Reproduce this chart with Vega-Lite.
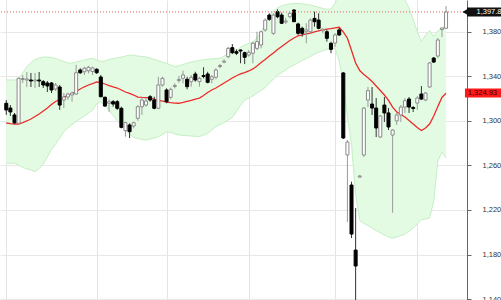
{
  "$schema": "https://vega.github.io/schema/vega-lite/v6.json",
  "width": 467,
  "height": 300,
  "autosize": {"type": "none"},
  "padding": {"left": 0, "top": 0, "right": 34, "bottom": 0},
  "background": "white",
  "config": {"view": {"stroke": null}, "font": "Liberation Sans"},
  "datasets": {
    "d": [
      {"i":0,"o":1315.8,"h":1318.7,"l":1305.3,"c":1309.8,"ma":1298.1,"up":1336.7,"lo":1261.9},
      {"i":1,"o":1311.5,"h":1314.2,"l":1304.4,"c":1308.0,"ma":1297.6,"up":1336.7,"lo":1261.9},
      {"i":2,"o":1305.3,"h":1307.1,"l":1297.2,"c":1298.3,"ma":1297.2,"up":1336.7,"lo":1261.9},
      {"i":3,"o":1297.8,"h":1338.9,"l":1297.2,"c":1338.2,"ma":1297.2,"up":1337.6,"lo":1260.1},
      {"i":4,"o":1337.1,"h":1341.2,"l":1334.0,"c":1338.0,"ma":1298.5,"up":1343.0,"lo":1258.3},
      {"i":5,"o":1336.7,"h":1343.9,"l":1330.4,"c":1337.6,"ma":1299.9,"up":1348.4,"lo":1256.8},
      {"i":6,"o":1336.7,"h":1343.0,"l":1330.4,"c":1335.8,"ma":1301.7,"up":1352.4,"lo":1255.9},
      {"i":7,"o":1335.8,"h":1343.0,"l":1329.5,"c":1336.7,"ma":1303.9,"up":1355.1,"lo":1254.5},
      {"i":8,"o":1336.7,"h":1343.9,"l":1330.4,"c":1335.8,"ma":1306.2,"up":1356.4,"lo":1257.2},
      {"i":9,"o":1335.2,"h":1336.7,"l":1329.5,"c":1332.2,"ma":1308.9,"up":1357.3,"lo":1261.3},
      {"i":10,"o":1334.0,"h":1335.8,"l":1325.9,"c":1331.3,"ma":1311.5,"up":1357.3,"lo":1267.6},
      {"i":11,"o":1334.0,"h":1334.9,"l":1325.0,"c":1327.7,"ma":1314.7,"up":1356.9,"lo":1274.3},
      {"i":12,"o":1328.6,"h":1334.0,"l":1326.8,"c":1332.2,"ma":1317.4,"up":1356.0,"lo":1279.2},
      {"i":13,"o":1330.4,"h":1332.2,"l":1309.8,"c":1314.2,"ma":1319.2,"up":1354.6,"lo":1284.6},
      {"i":14,"o":1318.7,"h":1325.0,"l":1311.5,"c":1321.4,"ma":1321.4,"up":1353.3,"lo":1290.4},
      {"i":15,"o":1321.4,"h":1325.3,"l":1318.7,"c":1324.1,"ma":1322.8,"up":1351.9,"lo":1293.6},
      {"i":16,"o":1323.2,"h":1326.2,"l":1317.2,"c":1325.0,"ma":1324.6,"up":1351.9,"lo":1296.7},
      {"i":17,"o":1324.1,"h":1350.2,"l":1323.2,"c":1343.2,"ma":1326.4,"up":1352.8,"lo":1299.4},
      {"i":18,"o":1345.7,"h":1347.2,"l":1342.1,"c":1343.2,"ma":1328.6,"up":1353.7,"lo":1301.9},
      {"i":19,"o":1344.1,"h":1348.6,"l":1341.2,"c":1347.2,"ma":1330.6,"up":1354.6,"lo":1304.4},
      {"i":20,"o":1345.0,"h":1349.3,"l":1342.7,"c":1348.1,"ma":1332.2,"up":1355.5,"lo":1307.1},
      {"i":21,"o":1344.3,"h":1348.6,"l":1341.2,"c":1347.5,"ma":1333.5,"up":1356.2,"lo":1309.5},
      {"i":22,"o":1346.3,"h":1347.2,"l":1342.1,"c":1343.2,"ma":1334.9,"up":1354.6,"lo":1315.6},
      {"i":23,"o":1339.4,"h":1341.2,"l":1321.2,"c":1321.7,"ma":1334.4,"up":1353.3,"lo":1316.9},
      {"i":24,"o":1321.2,"h":1321.7,"l":1312.7,"c":1313.3,"ma":1333.1,"up":1353.7,"lo":1313.8},
      {"i":25,"o":1315.8,"h":1319.4,"l":1308.2,"c":1317.2,"ma":1331.7,"up":1355.1,"lo":1309.3},
      {"i":26,"o":1317.2,"h":1318.7,"l":1312.7,"c":1315.1,"ma":1330.6,"up":1356.0,"lo":1304.8},
      {"i":27,"o":1317.2,"h":1318.7,"l":1309.8,"c":1311.3,"ma":1329.5,"up":1356.4,"lo":1300.3},
      {"i":28,"o":1311.3,"h":1312.7,"l":1293.3,"c":1294.2,"ma":1327.7,"up":1357.3,"lo":1296.3},
      {"i":29,"o":1291.2,"h":1299.3,"l":1285.8,"c":1298.4,"ma":1325.9,"up":1358.2,"lo":1291.8},
      {"i":30,"o":1296.3,"h":1297.8,"l":1284.6,"c":1290.3,"ma":1324.6,"up":1359.1,"lo":1288.2},
      {"i":31,"o":1295.4,"h":1299.3,"l":1293.3,"c":1298.4,"ma":1323.2,"up":1358.9,"lo":1285.2},
      {"i":32,"o":1302.3,"h":1314.2,"l":1300.1,"c":1312.7,"ma":1321.4,"up":1358.2,"lo":1284.1},
      {"i":33,"o":1312.7,"h":1321.7,"l":1305.3,"c":1318.7,"ma":1321.0,"up":1357.8,"lo":1283.3},
      {"i":34,"o":1314.2,"h":1320.3,"l":1312.7,"c":1317.8,"ma":1320.9,"up":1357.3,"lo":1282.8},
      {"i":35,"o":1321.7,"h":1323.2,"l":1317.2,"c":1318.7,"ma":1320.5,"up":1356.4,"lo":1283.7},
      {"i":36,"o":1318.7,"h":1321.7,"l":1310.4,"c":1311.3,"ma":1319.6,"up":1355.1,"lo":1284.6},
      {"i":37,"o":1311.3,"h":1339.6,"l":1310.4,"c":1332.2,"ma":1318.7,"up":1354.0,"lo":1285.8},
      {"i":38,"o":1332.2,"h":1339.6,"l":1330.7,"c":1338.2,"ma":1317.8,"up":1352.8,"lo":1287.8},
      {"i":39,"o":1327.7,"h":1329.2,"l":1315.8,"c":1317.2,"ma":1316.9,"up":1351.7,"lo":1290.0},
      {"i":40,"o":1321.2,"h":1329.8,"l":1319.4,"c":1328.3,"ma":1316.3,"up":1350.1,"lo":1289.6},
      {"i":41,"o":1330.9,"h":1333.7,"l":1329.2,"c":1331.8,"ma":1316.0,"up":1348.8,"lo":1288.2},
      {"i":42,"o":1336.2,"h":1340.3,"l":1334.3,"c":1337.1,"ma":1315.8,"up":1349.3,"lo":1287.3},
      {"i":43,"o":1338.2,"h":1345.0,"l":1333.7,"c":1341.2,"ma":1316.5,"up":1350.6,"lo":1287.0},
      {"i":44,"o":1337.3,"h":1339.6,"l":1328.3,"c":1330.7,"ma":1317.4,"up":1351.8,"lo":1286.7},
      {"i":45,"o":1335.2,"h":1341.2,"l":1330.7,"c":1339.1,"ma":1318.3,"up":1352.8,"lo":1286.4},
      {"i":46,"o":1342.1,"h":1344.1,"l":1335.2,"c":1336.7,"ma":1319.6,"up":1353.7,"lo":1286.1},
      {"i":47,"o":1335.2,"h":1339.6,"l":1330.7,"c":1338.2,"ma":1320.5,"up":1354.2,"lo":1285.9},
      {"i":48,"o":1340.7,"h":1348.1,"l":1338.2,"c":1339.8,"ma":1322.8,"up":1354.8,"lo":1287.3},
      {"i":49,"o":1342.1,"h":1344.1,"l":1333.7,"c":1334.6,"ma":1325.5,"up":1355.4,"lo":1288.7},
      {"i":50,"o":1337.3,"h":1341.2,"l":1333.7,"c":1339.6,"ma":1327.7,"up":1355.7,"lo":1291.8},
      {"i":51,"o":1339.1,"h":1347.2,"l":1337.3,"c":1345.7,"ma":1329.5,"up":1356.0,"lo":1294.9},
      {"i":52,"o":1348.8,"h":1351.0,"l":1347.2,"c":1349.7,"ma":1331.7,"up":1356.2,"lo":1296.7},
      {"i":53,"o":1352.7,"h":1355.3,"l":1351.7,"c":1353.6,"ma":1334.0,"up":1358.2,"lo":1298.5},
      {"i":54,"o":1357.6,"h":1366.6,"l":1356.2,"c":1365.1,"ma":1336.2,"up":1360.7,"lo":1300.8},
      {"i":55,"o":1365.7,"h":1369.0,"l":1360.0,"c":1361.2,"ma":1338.5,"up":1362.0,"lo":1303.0},
      {"i":56,"o":1362.1,"h":1364.2,"l":1359.1,"c":1360.7,"ma":1340.5,"up":1363.6,"lo":1308.4},
      {"i":57,"o":1363.6,"h":1364.2,"l":1351.7,"c":1362.7,"ma":1342.1,"up":1365.9,"lo":1313.8},
      {"i":58,"o":1361.2,"h":1362.1,"l":1351.0,"c":1357.1,"ma":1343.4,"up":1368.1,"lo":1318.7},
      {"i":59,"o":1359.1,"h":1363.6,"l":1357.6,"c":1361.5,"ma":1344.8,"up":1369.5,"lo":1320.5},
      {"i":60,"o":1360.7,"h":1371.1,"l":1351.7,"c":1369.6,"ma":1346.6,"up":1370.8,"lo":1322.3},
      {"i":61,"o":1365.1,"h":1380.0,"l":1363.6,"c":1371.1,"ma":1349.3,"up":1374.4,"lo":1325.0},
      {"i":62,"o":1368.1,"h":1380.9,"l":1365.1,"c":1380.0,"ma":1352.4,"up":1380.0,"lo":1327.3},
      {"i":63,"o":1381.6,"h":1392.0,"l":1380.0,"c":1390.5,"ma":1355.1,"up":1387.0,"lo":1330.0},
      {"i":64,"o":1395.0,"h":1396.6,"l":1389.9,"c":1391.2,"ma":1358.2,"up":1394.1,"lo":1333.7},
      {"i":65,"o":1378.6,"h":1396.6,"l":1377.1,"c":1395.0,"ma":1360.9,"up":1398.6,"lo":1337.6},
      {"i":66,"o":1398.0,"h":1400.2,"l":1392.1,"c":1393.5,"ma":1364.1,"up":1401.3,"lo":1341.2},
      {"i":67,"o":1395.0,"h":1397.1,"l":1387.0,"c":1387.6,"ma":1366.8,"up":1403.3,"lo":1343.4},
      {"i":68,"o":1388.8,"h":1392.3,"l":1387.0,"c":1389.6,"ma":1369.5,"up":1404.2,"lo":1345.7},
      {"i":69,"o":1393.5,"h":1397.1,"l":1392.1,"c":1396.6,"ma":1372.1,"up":1404.9,"lo":1348.4},
      {"i":70,"o":1399.5,"h":1400.2,"l":1388.8,"c":1389.0,"ma":1374.4,"up":1405.4,"lo":1350.1},
      {"i":71,"o":1387.0,"h":1388.1,"l":1377.1,"c":1378.6,"ma":1376.4,"up":1405.4,"lo":1352.2},
      {"i":72,"o":1383.1,"h":1384.5,"l":1375.6,"c":1378.6,"ma":1377.1,"up":1404.9,"lo":1354.2},
      {"i":73,"o":1380.0,"h":1387.6,"l":1369.6,"c":1381.6,"ma":1378.0,"up":1404.5,"lo":1356.0},
      {"i":74,"o":1380.0,"h":1392.0,"l":1378.6,"c":1390.5,"ma":1378.7,"up":1404.0,"lo":1357.8},
      {"i":75,"o":1392.0,"h":1398.0,"l":1384.5,"c":1389.0,"ma":1379.8,"up":1402.9,"lo":1360.0},
      {"i":76,"o":1390.5,"h":1396.6,"l":1382.2,"c":1383.1,"ma":1380.7,"up":1402.0,"lo":1361.6},
      {"i":77,"o":1380.9,"h":1383.1,"l":1378.6,"c":1382.2,"ma":1381.6,"up":1401.0,"lo":1362.9},
      {"i":78,"o":1380.0,"h":1381.6,"l":1371.1,"c":1374.1,"ma":1382.3,"up":1400.2,"lo":1364.2},
      {"i":79,"o":1369.6,"h":1371.1,"l":1360.7,"c":1364.2,"ma":1382.8,"up":1400.4,"lo":1365.2},
      {"i":80,"o":1369.9,"h":1378.9,"l":1366.3,"c":1377.1,"ma":1383.4,"up":1405.8,"lo":1365.0},
      {"i":81,"o":1381.6,"h":1383.4,"l":1376.2,"c":1377.1,"ma":1384.0,"up":1414.2,"lo":1353.7},
      {"i":82,"o":1343.0,"h":1343.9,"l":1283.7,"c":1284.6,"ma":1379.8,"up":1426.5,"lo":1333.1},
      {"i":83,"o":1269.4,"h":1282.8,"l":1209.2,"c":1281.0,"ma":1374.2,"up":1445.0,"lo":1303.5},
      {"i":84,"o":1242.4,"h":1245.4,"l":1194.8,"c":1198.4,"ma":1363.2,"up":1448.0,"lo":1278.3},
      {"i":85,"o":1184.0,"h":1221.8,"l":1130.0,"c":1169.7,"ma":1351.9,"up":1469.5,"lo":1234.3},
      {"i":86,"o":1249.6,"h":1251.4,"l":1248.7,"c":1250.5,"ma":1345.2,"up":1479.9,"lo":1210.6},
      {"i":87,"o":1269.4,"h":1312.4,"l":1267.6,"c":1311.5,"ma":1341.6,"up":1475.4,"lo":1207.9},
      {"i":88,"o":1318.7,"h":1330.4,"l":1312.4,"c":1327.1,"ma":1338.7,"up":1471.3,"lo":1206.1},
      {"i":89,"o":1315.1,"h":1330.4,"l":1305.3,"c":1311.5,"ma":1335.3,"up":1466.9,"lo":1203.8},
      {"i":90,"o":1311.5,"h":1320.5,"l":1285.5,"c":1293.6,"ma":1331.3,"up":1461.0,"lo":1201.6},
      {"i":91,"o":1285.5,"h":1305.3,"l":1284.6,"c":1304.4,"ma":1327.3,"up":1454.8,"lo":1199.7},
      {"i":92,"o":1314.2,"h":1321.4,"l":1299.0,"c":1307.1,"ma":1323.2,"up":1448.9,"lo":1197.5},
      {"i":93,"o":1307.1,"h":1311.5,"l":1291.8,"c":1294.5,"ma":1318.3,"up":1440.8,"lo":1195.7},
      {"i":94,"o":1287.3,"h":1292.5,"l":1217.5,"c":1291.8,"ma":1312.4,"up":1430.0,"lo":1194.7},
      {"i":95,"o":1299.9,"h":1307.1,"l":1296.3,"c":1305.3,"ma":1308.0,"up":1420.2,"lo":1195.7},
      {"i":96,"o":1305.3,"h":1314.2,"l":1299.0,"c":1312.4,"ma":1305.7,"up":1414.4,"lo":1197.0},
      {"i":97,"o":1312.4,"h":1320.5,"l":1307.1,"c":1318.1,"ma":1303.5,"up":1408.5,"lo":1198.4},
      {"i":98,"o":1319.6,"h":1321.4,"l":1307.1,"c":1312.4,"ma":1300.3,"up":1401.3,"lo":1201.1},
      {"i":99,"o":1312.0,"h":1313.3,"l":1308.0,"c":1311.1,"ma":1297.2,"up":1390.8,"lo":1203.8},
      {"i":100,"o":1316.0,"h":1322.3,"l":1309.8,"c":1320.5,"ma":1294.0,"up":1380.2,"lo":1207.4},
      {"i":101,"o":1324.1,"h":1331.3,"l":1318.7,"c":1319.6,"ma":1291.3,"up":1371.1,"lo":1211.2},
      {"i":102,"o":1318.7,"h":1325.9,"l":1317.8,"c":1325.0,"ma":1293.6,"up":1377.1,"lo":1211.9},
      {"i":103,"o":1330.4,"h":1352.8,"l":1329.5,"c":1352.0,"ma":1297.2,"up":1381.1,"lo":1212.8},
      {"i":104,"o":1356.4,"h":1357.3,"l":1352.0,"c":1352.8,"ma":1304.4,"up":1375.7,"lo":1228.1},
      {"i":105,"o":1358.2,"h":1374.4,"l":1356.4,"c":1372.6,"ma":1312.9,"up":1380.7,"lo":1264.0},
      {"i":106,"o":1382.0,"h":1383.4,"l":1375.3,"c":1383.4,"ma":1321.0,"up":1383.4,"lo":1271.8},
      {"i":107,"o":1383.1,"h":1403.1,"l":1382.5,"c":1397.8,"ma":1324.93,"up":1386.1,"lo":1266.7}
    ],
    "tags": [
      {"p": 1397.8, "t": "1,397.82", "kind": "last"},
      {"p": 1324.93, "t": "1,324.93", "kind": "ma"}
    ]
  },
  "data": {"name": "d"},
  "layer": [
    {
      "mark": {"type": "area", "color": "#e3fae3", "clip": true},
      "encoding": {
        "x": {"field": "i", "type": "quantitative",
              "scale": {"domain": [-0.31, 110.88], "nice": false, "zero": false},
              "axis": {"orient": "bottom", "values": [0, 22, 39, 59, 80, 100], "grid": true, "gridColor": "#e4e4e4", "gridWidth": 1, "labels": false, "ticks": false, "domain": false, "title": null}},
        "y": {"field": "lo", "type": "quantitative",
              "scale": {"domain": [1139.2, 1408.5], "nice": false, "zero": false},
              "axis": {"orient": "right", "values": [1140,1160,1180,1200,1220,1240,1260,1280,1300,1320,1340,1360,1380,1400], "labelExpr": "format(datum.value, ',.0f')", "grid": true, "gridColor": "#e8e8e8", "gridWidth": 1, "domainColor": "#666", "tickColor": "#666", "tickSize": 4, "labelFontSize": 7.5, "labelColor": "#333", "labelPadding": 11, "labelAlign": "left", "labelBaseline": "middle", "labelOverlap": false, "labelBound": false, "title": null}},
        "y2": {"field": "up"}
      }
    },
    {
      "mark": {"type": "line", "color": "#c4f0c4", "strokeWidth": 1, "clip": true},
      "encoding": {
        "x": {"field": "i", "type": "quantitative"},
        "y": {"field": "up", "type": "quantitative"}
      }
    },
    {
      "mark": {"type": "line", "color": "#c4f0c4", "strokeWidth": 1, "clip": true},
      "encoding": {
        "x": {"field": "i", "type": "quantitative"},
        "y": {"field": "lo", "type": "quantitative"}
      }
    },
    {
      "mark": {"type": "line", "color": "#ee2a2a", "strokeWidth": 1.3, "clip": true},
      "encoding": {
        "x": {"field": "i", "type": "quantitative"},
        "y": {"field": "ma", "type": "quantitative"}
      }
    },
    {
      "mark": {"type": "rule", "strokeWidth": 1, "clip": true},
      "encoding": {
        "x": {"field": "i", "type": "quantitative"},
        "y": {"field": "l", "type": "quantitative"},
        "y2": {"field": "h"},
        "color": {"condition": {"test": "datum.c >= datum.o", "value": "#9a9a9a"}, "value": "#333333"}
      }
    },
    {
      "mark": {"type": "bar", "width": 3, "strokeWidth": 1, "clip": true},
      "encoding": {
        "x": {"field": "i", "type": "quantitative"},
        "y": {"field": "o", "type": "quantitative"},
        "y2": {"field": "c"},
        "fill": {"condition": {"test": "datum.c >= datum.o", "value": "#ffffff"}, "value": "#000000"},
        "stroke": {"condition": {"test": "datum.c >= datum.o", "value": "#8a8a8a"}, "value": "#000000"}
      }
    },
    {
      "data": {"name": "tags"},
      "transform": [{"filter": "datum.kind == 'last'"}],
      "mark": {"type": "rule", "color": "#e06060", "strokeWidth": 1, "strokeDash": [1, 2]},
      "encoding": {"y": {"field": "p", "type": "quantitative"}}
    },
    {
      "data": {"name": "tags"},
      "transform": [{"filter": "datum.kind == 'last'"}],
      "mark": {"type": "rect", "color": "#111111", "clip": false, "yOffset": -4.5, "y2Offset": 4.5},
      "encoding": {
        "x": {"datum": 112.1},
        "x2": {"datum": 125},
        "y": {"field": "p", "type": "quantitative"},
        "y2": {"field": "p"}
      }
    },
    {
      "data": {"name": "tags"},
      "transform": [{"filter": "datum.kind == 'last'"}],
      "mark": {"type": "point", "shape": "triangle-left", "filled": true, "color": "#111111", "opacity": 1, "size": 45, "clip": false},
      "encoding": {
        "x": {"datum": 111.7},
        "y": {"field": "p", "type": "quantitative"}
      }
    },
    {
      "data": {"name": "tags"},
      "transform": [{"filter": "datum.kind == 'last'"}],
      "mark": {"type": "text", "color": "#ffffff", "fontSize": 7.5, "align": "left", "baseline": "middle", "clip": false},
      "encoding": {
        "x": {"datum": 114.4},
        "y": {"field": "p", "type": "quantitative"},
        "text": {"field": "t"}
      }
    },
    {
      "data": {"name": "tags"},
      "transform": [{"filter": "datum.kind == 'ma'"}],
      "mark": {"type": "rect", "color": "#ff1a1a", "clip": false, "yOffset": -4.5, "y2Offset": 4.5},
      "encoding": {
        "x": {"datum": 111.6},
        "x2": {"datum": 125},
        "y": {"field": "p", "type": "quantitative"},
        "y2": {"field": "p"}
      }
    },
    {
      "data": {"name": "tags"},
      "transform": [{"filter": "datum.kind == 'ma'"}],
      "mark": {"type": "text", "color": "#3a0000", "fontSize": 7.5, "align": "left", "baseline": "middle", "clip": false},
      "encoding": {
        "x": {"datum": 112.3},
        "y": {"field": "p", "type": "quantitative"},
        "text": {"field": "t"}
      }
    }
  ]
}
